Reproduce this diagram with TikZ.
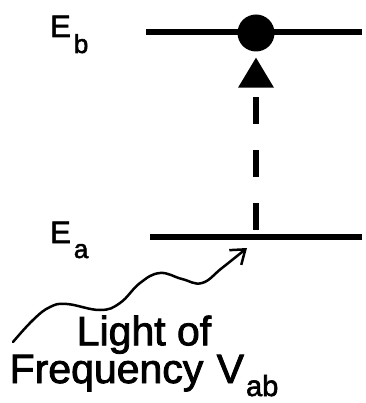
\documentclass[tikz,border=0pt]{standalone}
\usepackage{fontspec}
\setmainfont{Liberation Sans}[BoldFont=Liberation Sans, BoldFeatures={FakeBold=2}]
\usetikzlibrary{arrows.meta, positioning}
\newcommand{\lowsub}[3][26]{\raisebox{-#2}{\fontsize{#1}{#1}\selectfont #3}}

\begin{document}
\begin{tikzpicture}[
    x=1pt, y=-1pt,
    level/.style={line width=6.5pt},
    elabel/.style={anchor=base west, inner sep=0pt,
      font=\fontsize{31}{31}\selectfont\bfseries},
    electron/.style={circle, fill=black, inner sep=0pt, minimum size=37pt},
    excite/.style={
      line width=6.5pt, dash pattern=on 27pt off 26pt, dash phase=46pt,
      shorten >=6pt,
      -{Triangle[length=30pt, width=36pt, line width=0pt 0 0]}
    },
    photon/.style={
      line width=2.5pt, line cap=round,
      -{Straight Barb[length=13pt, width=19pt, line width=2.5pt 0 0]}
    },
  ]
    \useasboundingbox (0,0) rectangle (365,403);

    % energy levels
    \coordinate (bleft) at (146,32);
    \coordinate (bright) at (362,32);
    \coordinate (aleft) at (150,237);
    \coordinate (aright) at (362,237);
    \draw[level] (bleft) -- (bright);
    \draw[level] (aleft) -- (aright);

    \node[elabel] (Eb) at (50,37) {E\hspace{3pt}\lowsub{16pt}{b}};
    \node[elabel] (Ea) at (50,243) {E\hspace{3pt}\lowsub{15pt}{a}};

    % transition a -> b
    \node[electron] (elec) at (256,33) {};
    \coordinate (lift) at (256,237);
    \draw[excite] (lift) -- (elec.south);

    % incoming light
    \coordinate (wavestart) at (13,342);
    \coordinate (waveend) at (247,248);
    \draw[photon] plot[smooth, tension=0.7] coordinates {
      (wavestart) (33,320) (50,307) (67,304) (100,310) (120,303)
      (140,283) (160,273) (182,279) (202,283) (222,268) (waveend)};

    \node[font=\fontsize{41}{33}\selectfont\bfseries, align=center,
      inner sep=0pt, anchor=base] (light) at (144,383)
      {Light of\\Frequency\hspace{2pt} V\hspace{2pt}\lowsub[29]{13pt}{ab}};
\end{tikzpicture}
\end{document}
